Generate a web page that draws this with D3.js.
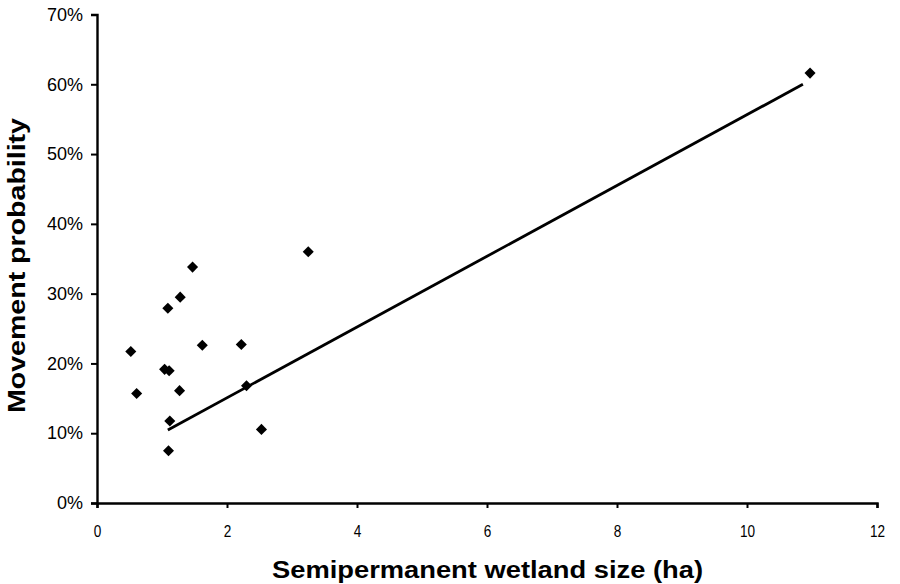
<!DOCTYPE html>
<html>
<head>
<meta charset="utf-8" />
<title>Movement probability vs wetland size</title>
<script src="https://d3js.org/d3.v7.min.js"></script>
<style>
  body { margin: 0; background: #fff; }
  text { font-family: "Liberation Sans", Arial, sans-serif; fill: #000; }
</style>
</head>
<body>
<svg id="chart" width="900" height="584"></svg>
<script>
// wetland size (ha) and movement probability (fraction)
var wetlandSize = [1.47, 1.28, 1.09, 0.52, 1.62, 2.22, 1.04, 1.11, 0.61, 1.27, 2.30, 1.12, 2.53, 1.10, 3.25, 10.97];
var moveProb    = [0.338, 0.295, 0.279, 0.217, 0.226, 0.227, 0.1915, 0.1895, 0.157, 0.161, 0.168, 0.1175, 0.1055, 0.075, 0.360, 0.616];

// fitted trend line end points
var trendX = [1.09, 10.86];
var trendY = [0.1046, 0.600];

var xTicks = [0, 2, 4, 6, 8, 10, 12];
var yTicks = [0, 0.1, 0.2, 0.3, 0.4, 0.5, 0.6, 0.7];

var svg = d3.select("#chart"),
    margin = { top: 14.5, right: 23, bottom: 81, left: 97 },
    width = +svg.attr("width") - margin.left - margin.right,
    height = +svg.attr("height") - margin.top - margin.bottom;

var x = d3.scaleLinear().domain([0, 12]).range([0, width]),
    y = d3.scaleLinear().domain([0, 0.7]).range([height, 0]);

var g = svg.append("g").attr("transform", "translate(" + margin.left + "," + margin.top + ")");

// axes
var xAxis = d3.axisBottom(x).tickValues(xTicks).tickSize(5).tickPadding(17).tickFormat(d3.format("d"));
var yAxis = d3.axisLeft(y).tickValues(yTicks).tickSize(6).tickPadding(8).tickFormat(d3.format(".0%"));

var gx = g.append("g").attr("transform", "translate(0," + height + ")").call(xAxis);
var gy = g.append("g").call(yAxis);

gy.attr("font-size", 18).attr("font-family", "Liberation Sans, Arial, sans-serif");
gx.attr("font-size", 17).attr("font-family", "Liberation Sans, Arial, sans-serif");

[gx, gy].forEach(function (a) {
    a.select(".domain").attr("stroke", "#000").attr("stroke-width", 2.4);
    a.selectAll(".tick line").attr("stroke", "#000").attr("stroke-width", 2);
    a.selectAll(".tick text").attr("fill", "#000");
});
// x labels are narrower in the original
gx.selectAll(".tick text").attr("transform", "scale(0.8,1)");

// trend line
var line = d3.line()
    .x(function (d) { return x(d[0]); })
    .y(function (d) { return y(d[1]); });

g.append("path")
    .datum(d3.zip(trendX, trendY))
    .attr("fill", "none")
    .attr("stroke", "#000")
    .attr("stroke-width", 2.8)
    .attr("d", line);

// points
var diamond = d3.symbol().type(d3.symbolDiamond2).size(78);
g.selectAll(".pt")
    .data(d3.zip(wetlandSize, moveProb))
    .enter().append("path")
    .attr("class", "pt")
    .attr("transform", function (d) { return "translate(" + x(d[0]) + "," + y(d[1]) + ")"; })
    .attr("d", diamond)
    .attr("fill", "#000");

// axis titles
svg.append("text")
    .attr("x", 487.5)
    .attr("y", 578)
    .attr("text-anchor", "middle")
    .attr("textLength", 431)
    .attr("lengthAdjust", "spacingAndGlyphs")
    .style("font-size", "23px")
    .style("font-weight", "bold")
    .text("Semipermanent wetland size (ha)");

svg.append("text")
    .attr("transform", "translate(25,265.5) rotate(-90)")
    .attr("text-anchor", "middle")
    .attr("textLength", 295)
    .attr("lengthAdjust", "spacingAndGlyphs")
    .style("font-size", "23px")
    .style("font-weight", "bold")
    .text("Movement probability");
</script>
</body>
</html>
